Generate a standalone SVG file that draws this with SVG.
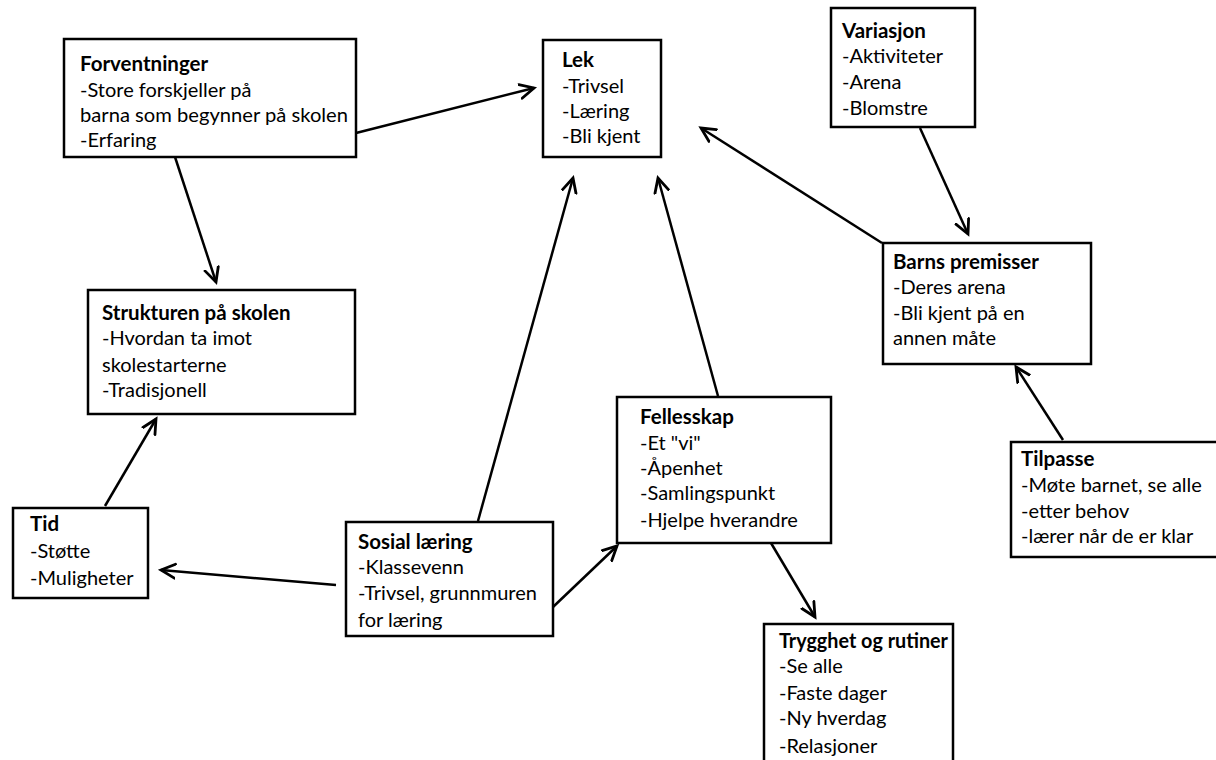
<svg xmlns="http://www.w3.org/2000/svg" width="1216" height="760" viewBox="0 0 1216 760">
<defs>
<style>
.box{fill:#fff;stroke:#000;stroke-width:2.5}
text{font-family:Lato,"Open Sans","Liberation Sans",sans-serif;font-size:20px;fill:#000}
.t{font-weight:bold;font-size:20.5px}
.c{stroke:#000;stroke-width:2.5;fill:none;marker-end:url(#ah)}
</style>
<marker id="ah" markerUnits="userSpaceOnUse" markerWidth="20" markerHeight="20" refX="15" refY="8" orient="auto" viewBox="0 0 20 16">
<path d="M1,1 L15,8 L1,15" fill="none" stroke="#000" stroke-width="2.8" stroke-linecap="round" stroke-linejoin="miter"/>
</marker>
</defs>
<rect width="1216" height="760" fill="#fff"/>
<g id="connectors">
<line class="c" x1="356" y1="133" x2="534" y2="88"/>
<line class="c" x1="175" y1="157" x2="216" y2="282"/>
<line class="c" x1="105" y1="506" x2="156" y2="419"/>
<line class="c" x1="336" y1="585" x2="161" y2="570"/>
<line class="c" x1="478" y1="521" x2="573" y2="178"/>
<line class="c" x1="553" y1="607" x2="617" y2="546"/>
<line class="c" x1="718" y1="396" x2="658" y2="178"/>
<line class="c" x1="771" y1="543" x2="815" y2="617"/>
<line class="c" x1="920" y1="128" x2="968" y2="234"/>
<line class="c" x1="882" y1="243" x2="701" y2="128"/>
<line class="c" x1="1063" y1="440" x2="1016" y2="367"/>
</g>
<g id="forventninger">
<rect class="box" x="64" y="39" width="292" height="118"/>
<text x="80" y="71" class="t">Forventninger</text>
<text x="80" y="97">-Store forskjeller på</text>
<text x="80" y="122" textLength="268" lengthAdjust="spacingAndGlyphs">barna som begynner på skolen</text>
<text x="80" y="147">-Erfaring</text>
</g>
<g id="lek">
<rect class="box" x="543" y="40" width="118" height="117"/>
<text x="562" y="67" class="t">Lek</text>
<text x="562" y="93">-Trivsel</text>
<text x="562" y="118">-Læring</text>
<text x="562" y="143">-Bli kjent</text>
</g>
<g id="variasjon">
<rect class="box" x="831" y="8" width="144" height="119"/>
<text x="842" y="38" class="t">Variasjon</text>
<text x="842" y="63">-Aktiviteter</text>
<text x="842" y="89">-Arena</text>
<text x="842" y="115">-Blomstre</text>
</g>
<g id="strukturen">
<rect class="box" x="88" y="290" width="267" height="124"/>
<text x="102" y="320" class="t">Strukturen på skolen</text>
<text x="102" y="345">-Hvordan ta imot</text>
<text x="102" y="372">skolestarterne</text>
<text x="102" y="397">-Tradisjonell</text>
</g>
<g id="barns-premisser">
<rect class="box" x="883" y="243" width="208" height="121"/>
<text x="893" y="269" class="t">Barns premisser</text>
<text x="893" y="294">-Deres arena</text>
<text x="893" y="320">-Bli kjent på en</text>
<text x="893" y="345">annen måte</text>
</g>
<g id="tid">
<rect class="box" x="13" y="508" width="135" height="90"/>
<text x="30" y="531" class="t">Tid</text>
<text x="30" y="558">-Støtte</text>
<text x="30" y="585">-Muligheter</text>
</g>
<g id="sosial-laering">
<rect class="box" x="346" y="522" width="207" height="114"/>
<text x="358" y="549" class="t">Sosial læring</text>
<text x="358" y="574">-Klassevenn</text>
<text x="358" y="600">-Trivsel, grunnmuren</text>
<text x="358" y="627">for læring</text>
</g>
<g id="fellesskap">
<rect class="box" x="617" y="397" width="214" height="146"/>
<text x="640" y="424" class="t">Fellesskap</text>
<text x="640" y="450">-Et "vi"</text>
<text x="640" y="475">-Åpenhet</text>
<text x="640" y="500">-Samlingspunkt</text>
<text x="640" y="527">-Hjelpe hverandre</text>
</g>
<g id="tilpasse">
<rect class="box" x="1011" y="442" width="210" height="115"/>
<text x="1021" y="466" class="t">Tilpasse</text>
<text x="1021" y="492">-Møte barnet, se alle</text>
<text x="1021" y="518">-etter behov</text>
<text x="1021" y="543">-lærer når de er klar</text>
</g>
<g id="trygghet">
<rect class="box" x="764" y="624" width="189" height="145"/>
<text x="779" y="648" class="t" textLength="169" lengthAdjust="spacingAndGlyphs">Trygghet og rutiner</text>
<text x="779" y="673">-Se alle</text>
<text x="779" y="700">-Faste dager</text>
<text x="779" y="725">-Ny hverdag</text>
<text x="779" y="753">-Relasjoner</text>
</g>
</svg>
